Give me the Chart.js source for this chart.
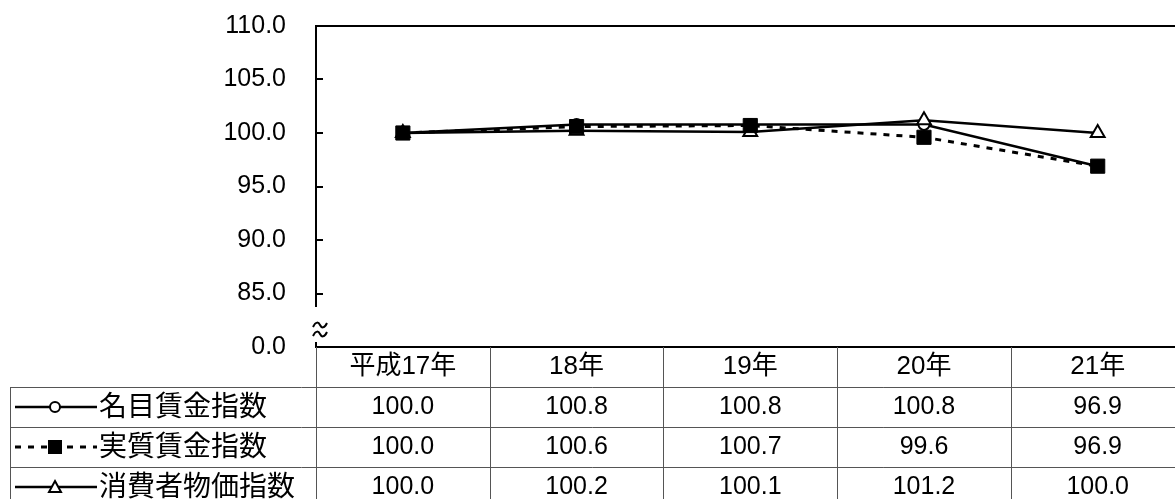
<!DOCTYPE html>
<html>
<head>
<meta charset="utf-8">
<script src="https://cdn.jsdelivr.net/npm/chart.js@4/dist/chart.umd.min.js"></script>
<style>
  html, body { margin: 0; padding: 0; background: #fff; overflow: hidden; }
  #wrap { width: 1175px; height: 499px; overflow: hidden; position: relative; }
  canvas { display: block; }
</style>
</head>
<body>
<div id="wrap"><canvas id="c" width="1175" height="499"></canvas></div>
<script>
// Categories (fiscal years) and series
const years = ['平成17年', '18年', '19年', '20年', '21年'];
const seriesNames = ['名目賃金指数', '実質賃金指数', '消費者物価指数'];
const nominalWage = [100.0, 100.8, 100.8, 100.8, 96.9];
const realWage    = [100.0, 100.6, 100.7, 99.6, 96.9];
const cpi         = [100.0, 100.2, 100.1, 101.2, 100.0];

// Value axis: 85–110 shown, the bottom slot stands for the broken-off zero
const yMin = 80, yMax = 110, yStep = 5;
const yZeroLabel = '0.0';
// Category axis in index units; the last column runs past the right edge
const xMin = -0.5, xMax = 4.445;

const NUM_FONT = '25px "Liberation Sans", Arial, sans-serif';
const JP_FONT = '"Liberation Sans", "Noto Sans CJK JP", sans-serif';

const toPoints = vals => vals.map((v, i) => ({ x: i, y: v }));

function drawMarker(ctx, style, x, y) {
  ctx.save();
  ctx.lineWidth = 2;
  ctx.strokeStyle = '#000';
  if (style === 'circle') {
    ctx.fillStyle = '#fff';
    ctx.beginPath(); ctx.arc(x, y, 5, 0, Math.PI * 2); ctx.fill(); ctx.stroke();
  } else if (style === 'rect') {
    ctx.fillStyle = '#000';
    ctx.fillRect(x - 7, y - 7, 14, 14);
  } else {
    ctx.fillStyle = '#fff';
    ctx.beginPath();
    ctx.moveTo(x, y - 6); ctx.lineTo(x + 6, y + 5); ctx.lineTo(x - 6, y + 5); ctx.closePath();
    ctx.fill(); ctx.stroke();
  }
  ctx.restore();
}

function drawTilde(ctx, x0, x1, yc) {
  const w = x1 - x0;
  ctx.beginPath();
  ctx.moveTo(x0, yc + 2);
  ctx.bezierCurveTo(x0 + w * 0.2, yc - 4, x0 + w * 0.4, yc - 3, x0 + w * 0.5, yc);
  ctx.bezierCurveTo(x0 + w * 0.6, yc + 3, x0 + w * 0.8, yc + 4, x1, yc - 2);
  ctx.stroke();
}

// Frame, broken axis and the data table under the plot
const tablePlugin = {
  id: 'dataTable',
  afterDraw(chart) {
    const { ctx, chartArea: a, scales: { x, y } } = chart;
    const n = years.length;
    const rowH = 40;
    const bottom = chart.height;
    ctx.save();

    // top frame line
    ctx.strokeStyle = '#000';
    ctx.lineWidth = 2;
    ctx.beginPath(); ctx.moveTo(a.left - 1, a.top); ctx.lineTo(a.right, a.top); ctx.stroke();

    // value axis with a break before zero
    const breakTop = a.bottom - 40;
    ctx.beginPath();
    ctx.moveTo(a.left, a.top); ctx.lineTo(a.left, breakTop);
    ctx.moveTo(a.left, a.bottom - 5); ctx.lineTo(a.left, a.bottom);
    ctx.stroke();
    drawTilde(ctx, a.left - 3, a.left + 11, a.bottom - 22);
    drawTilde(ctx, a.left - 3, a.left + 11, a.bottom - 13);

    // inward tick marks
    for (let v = yMin + yStep; v < yMax; v += yStep) {
      const py = Math.round(y.getPixelForValue(v));
      ctx.beginPath(); ctx.moveTo(a.left, py); ctx.lineTo(a.left + 7, py); ctx.stroke();
    }

    // bottom line of the plot / top of the table
    ctx.beginPath(); ctx.moveTo(a.left - 1, a.bottom); ctx.lineTo(a.right, a.bottom); ctx.stroke();

    // table grid
    ctx.strokeStyle = '#555';
    ctx.lineWidth = 1;
    for (let i = 0; i <= n; i++) {
      const px = Math.round(x.getPixelForValue(i - 0.5)) + 0.5;
      ctx.beginPath(); ctx.moveTo(px, a.bottom); ctx.lineTo(px, bottom); ctx.stroke();
    }
    const nameLeft = 10.5;
    ctx.beginPath(); ctx.moveTo(nameLeft, a.bottom + rowH); ctx.lineTo(nameLeft, bottom); ctx.stroke();
    for (let r = 1; r <= seriesNames.length; r++) {
      const py = Math.round(a.bottom + r * rowH) + 0.5;
      ctx.beginPath(); ctx.moveTo(nameLeft, py); ctx.lineTo(a.right, py); ctx.stroke();
    }

    // header: category labels
    ctx.fillStyle = '#000';
    ctx.textAlign = 'center'; ctx.textBaseline = 'middle';
    ctx.font = '26px ' + JP_FONT;
    years.forEach((lab, i) => ctx.fillText(lab, x.getPixelForValue(i), a.bottom + rowH / 2));

    // series rows
    chart.data.datasets.forEach((ds, r) => {
      const cy = a.bottom + rowH * (r + 1) + rowH / 2;
      // legend sample
      ctx.save();
      ctx.strokeStyle = '#000';
      ctx.lineWidth = ds.borderWidth;
      ctx.setLineDash(ds.borderDash || []);
      ctx.beginPath(); ctx.moveTo(15, cy); ctx.lineTo(97, cy); ctx.stroke();
      ctx.restore();
      drawMarker(ctx, ds.pointStyle, 55, cy);
      // name
      ctx.textAlign = 'left';
      ctx.font = '28px ' + JP_FONT;
      ctx.fillText(ds.label, 99, cy + 1);
      // values
      ctx.textAlign = 'center';
      ctx.font = NUM_FONT;
      ds.data.forEach(p => ctx.fillText(p.y.toFixed(1), x.getPixelForValue(p.x), cy));
    });
    ctx.restore();
  }
};

const lineBase = { borderColor: '#000', pointBorderColor: '#000', tension: 0, fill: false };

new Chart(document.getElementById('c'), {
  type: 'line',
  data: {
    datasets: [
      Object.assign({}, lineBase, {
        label: seriesNames[0], data: toPoints(nominalWage), order: 2,
        borderWidth: 2.5, pointStyle: 'circle', pointRadius: 5.5,
        pointBackgroundColor: '#fff', pointBorderWidth: 2
      }),
      Object.assign({}, lineBase, {
        label: seriesNames[1], data: toPoints(realWage), order: 0,
        borderWidth: 3, borderDash: [6, 7], pointStyle: 'rect', pointRadius: 10,
        pointBackgroundColor: '#000', pointBorderWidth: 1
      }),
      Object.assign({}, lineBase, {
        label: seriesNames[2], data: toPoints(cpi), order: 1,
        borderWidth: 2.5, pointStyle: 'triangle', pointRadius: 8,
        pointBackgroundColor: '#fff', pointBorderWidth: 2
      })
    ]
  },
  options: {
    responsive: false,
    animation: false,
    devicePixelRatio: 1,
    clip: false,
    layout: { autoPadding: false, padding: { top: 26, left: 0, right: 0, bottom: 152 } },
    plugins: { legend: { display: false }, tooltip: { enabled: false } },
    scales: {
      x: { type: 'linear', display: false, min: xMin, max: xMax },
      y: {
        min: yMin, max: yMax,
        ticks: {
          stepSize: yStep, padding: 0, color: '#000',
          font: { family: '"Liberation Sans", Arial, sans-serif', size: 25 },
          callback: v => (v === yMin ? yZeroLabel : v.toFixed(1))
        },
        grid: { display: false, drawTicks: true, tickLength: 30, color: 'rgba(0,0,0,0)' },
        border: { display: false },
        afterFit: s => { s.width = 316; }
      }
    }
  },
  plugins: [tablePlugin]
});
</script>
</body>
</html>
